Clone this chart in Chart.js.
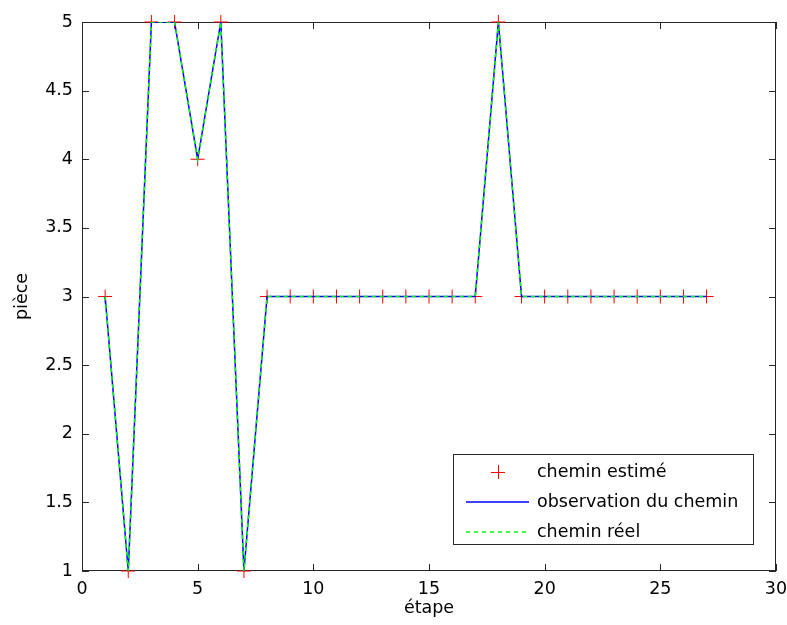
<!DOCTYPE html>
<html>
<head>
<meta charset="utf-8">
<script src="https://cdn.jsdelivr.net/npm/chart.js@4/dist/chart.umd.min.js"></script>
<style>
  html, body { margin: 0; padding: 0; background: #fff; }
  #wrap { width: 787px; height: 625px; }
</style>
</head>
<body>
<div id="wrap"><canvas id="chart" width="787" height="625"></canvas></div>
<script>
// données
const etapes = [1,2,3,4,5,6,7,8,9,10,11,12,13,14,15,16,17,18,19,20,21,22,23,24,25,26,27];
const cheminEstime = [3,1,5,5,4,5,1,3,3,3,3,3,3,3,3,3,3,5,3,3,3,3,3,3,3,3,3];
const observation = [3,1,5,5,4,5,1,3,3,3,3,3,3,3,3,3,3,5,3,3,3,3,3,3,3,3,3];
const cheminReel = [3,1,5,5,4,5,1,3,3,3,3,3,3,3,3,3,3,5,3,3,3,3,3,3,3,3,3];
const xTicks = [0,5,10,15,20,25,30];
const yTicks = [1,1.5,2,2.5,3,3.5,4,4.5,5];
const legendLabels = ['chemin estimé', 'observation du chemin', 'chemin réel'];

const FONT = '"DejaVu Sans", sans-serif';
const toPts = (xs, ys) => xs.map((x, i) => ({ x: x, y: ys[i] }));

// cadre + graduations vers l'intérieur, façon MATLAB
const axesBox = {
  id: 'axesBox',
  beforeDatasetsDraw(chart) {
    const { ctx, chartArea: a, scales } = chart;
    ctx.save();
    ctx.strokeStyle = '#262626';
    ctx.lineWidth = 1;
    ctx.strokeRect(a.left + 0.5, a.top + 0.5, a.right - a.left - 1, a.bottom - a.top - 1);
    ctx.beginPath();
    xTicks.forEach(v => {
      const px = Math.round(scales.x.getPixelForValue(v)) + 0.5;
      ctx.moveTo(px, a.bottom); ctx.lineTo(px, a.bottom - 7);
      ctx.moveTo(px, a.top); ctx.lineTo(px, a.top + 7);
    });
    yTicks.forEach(v => {
      const py = Math.round(scales.y.getPixelForValue(v)) + 0.5;
      ctx.moveTo(a.left, py); ctx.lineTo(a.left + 7, py);
      ctx.moveTo(a.right, py); ctx.lineTo(a.right - 7, py);
    });
    ctx.stroke();
    ctx.restore();
  },
  afterDraw(chart) {
    const ctx = chart.ctx;
    const bx = 453, by = 454, bw = 300, bh = 90;
    ctx.save();
    ctx.fillStyle = '#fff';
    ctx.fillRect(bx, by, bw, bh);
    ctx.strokeStyle = '#262626';
    ctx.lineWidth = 1;
    ctx.strokeRect(bx + 0.5, by + 0.5, bw, bh);
    const rows = [472, 502, 532];
    // croix rouge
    ctx.strokeStyle = '#ff0000';
    ctx.beginPath();
    ctx.moveTo(491, rows[0] + 0.5); ctx.lineTo(505, rows[0] + 0.5);
    ctx.moveTo(498.5, rows[0] - 7); ctx.lineTo(498.5, rows[0] + 7);
    ctx.stroke();
    // trait bleu
    ctx.strokeStyle = '#0000ff';
    ctx.lineWidth = 1.5;
    ctx.beginPath();
    ctx.moveTo(466, rows[1]); ctx.lineTo(529, rows[1]);
    ctx.stroke();
    // tirets verts
    ctx.strokeStyle = '#00ff00';
    ctx.setLineDash([4, 4]);
    ctx.beginPath();
    ctx.moveTo(466, rows[2]); ctx.lineTo(529, rows[2]);
    ctx.stroke();
    ctx.setLineDash([]);
    ctx.fillStyle = '#000';
    ctx.font = '17.5px ' + FONT;
    ctx.textBaseline = 'middle';
    ctx.textAlign = 'left';
    legendLabels.forEach((t, i) => ctx.fillText(t, 537, rows[i]));
    ctx.restore();
  }
};

new Chart(document.getElementById('chart'), {
  type: 'scatter',
  data: {
    datasets: [
      {
        label: legendLabels[0],
        data: toPts(etapes, cheminEstime),
        showLine: false,
        pointStyle: 'cross',
        pointRadius: 7,
        pointHoverRadius: 7,
        borderColor: '#ff0000',
        backgroundColor: '#ff0000',
        pointBorderWidth: 1,
        clip: false,
        order: 3
      },
      {
        label: legendLabels[1],
        data: toPts(etapes, observation),
        showLine: true,
        pointRadius: 0,
        borderColor: '#0000ff',
        borderWidth: 1.5,
        tension: 0,
        order: 2
      },
      {
        label: legendLabels[2],
        data: toPts(etapes, cheminReel),
        showLine: true,
        pointRadius: 0,
        borderColor: '#00ff00',
        borderWidth: 1.5,
        borderDash: [4, 4],
        tension: 0,
        order: 1
      }
    ]
  },
  options: {
    responsive: false,
    animation: false,
    events: [],
    layout: { padding: { left: 0, top: 22, right: 11, bottom: 0 } },
    plugins: { legend: { display: false }, tooltip: { enabled: false } },
    scales: {
      x: {
        type: 'linear',
        min: 0, max: 30,
        afterBuildTicks: s => { s.ticks = xTicks.map(v => ({ value: v })); },
        afterFit: s => { s.height = 54; s.paddingLeft = 0; s.paddingRight = 0; },
        grid: { display: false, drawTicks: false },
        border: { display: false },
        ticks: { color: '#000', padding: 8, maxRotation: 0, callback: v => String(v), font: { family: FONT, size: 17.5 } },
        title: { display: true, text: 'étape', color: '#000', padding: { top: 0, bottom: 6 }, font: { family: FONT, size: 17.5 } }
      },
      y: {
        type: 'linear',
        min: 1, max: 5,
        afterBuildTicks: s => { s.ticks = yTicks.map(v => ({ value: v })); },
        afterFit: s => { s.width = 82; s.paddingTop = 0; s.paddingBottom = 0; },
        grid: { display: false, drawTicks: false },
        border: { display: false },
        ticks: { color: '#000', padding: 9, callback: v => String(v), font: { family: FONT, size: 17.5 } },
        title: { display: true, text: 'pièce', color: '#000', padding: { top: 12, bottom: 0 }, font: { family: FONT, size: 17.5 } }
      }
    }
  },
  plugins: [axesBox]
});
</script>
</body>
</html>
